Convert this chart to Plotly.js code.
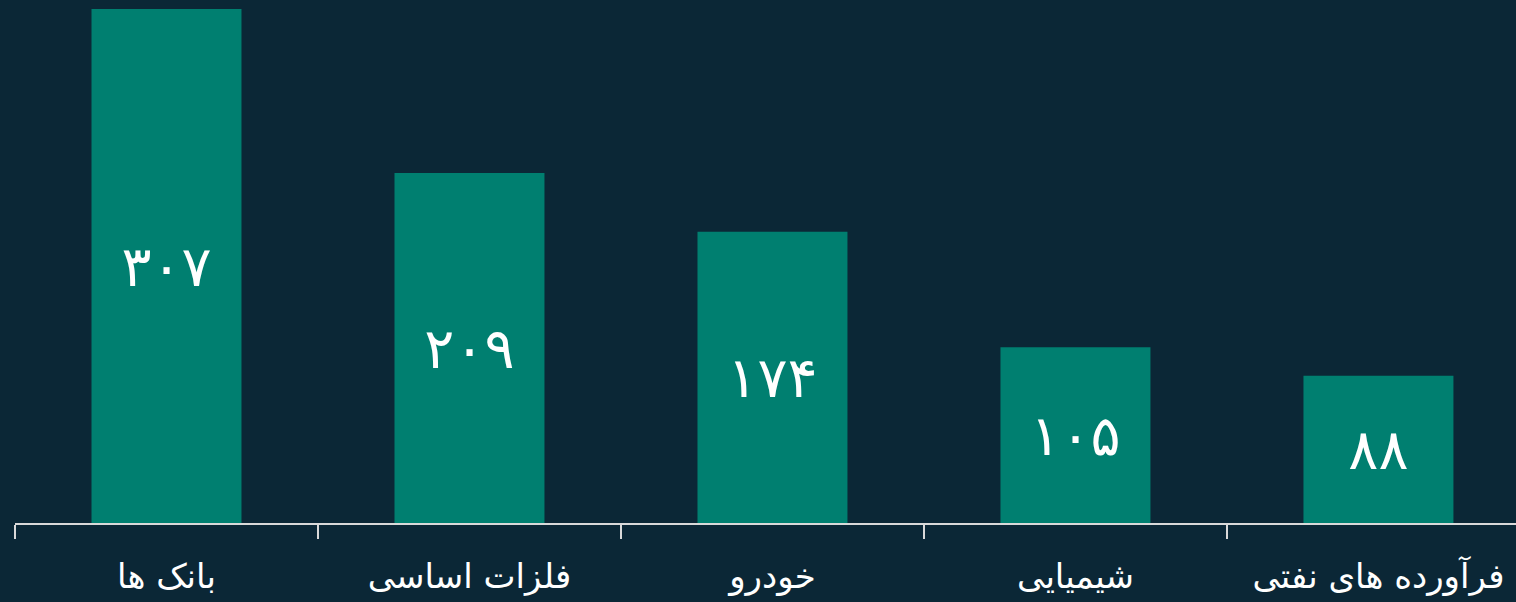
<!DOCTYPE html>
<html><head><meta charset="utf-8">
<script src="https://cdn.plot.ly/plotly-3.0.1.min.js"></script>
<style>html,body{margin:0;padding:0;background:#0b2736;}#chart{width:1516px;height:602px;}</style>
</head><body><div id="chart"></div>
<script>
const categories = ["بانک ها", "فلزات اساسی", "خودرو", "شیمیایی", "فرآورده های نفتی"];
const values = [307, 209, 174, 105, 88];
const valueLabels = ["۳۰۷", "۲۰۹", "۱۷۴", "۱۰۵", "۸۸"];

const trace = {
  type: "bar",
  x: categories,
  y: values,
  text: valueLabels,
  textposition: "inside",
  insidetextanchor: "middle",
  textfont: {family: "DejaVu Sans, Noto Sans", size: 56, color: "#ffffff"},
  marker: {color: "#007f70"},
  width: 0.495,
  hoverinfo: "none"
};
const layout = {
  width: 1516, height: 602,
  margin: {l: 15, r: 0, t: 0, b: 79},
  paper_bgcolor: "#0b2736",
  plot_bgcolor: "#0b2736",
  showlegend: false,
  font: {family: "DejaVu Sans, Noto Sans", color: "#ffffff"},
  xaxis: {
    type: "category",
    range: [-0.5, 4.454],
    tickson: "boundaries",
    ticks: "outside",
    ticklen: 14,
    tickwidth: 2,
    tickcolor: "#d9d9d9",
    showline: true,
    linecolor: "#d9d9d9",
    linewidth: 2,
    showgrid: false,
    tickfont: {family: "DejaVu Sans, Noto Sans", size: 34, color: "#ffffff"},
    ticklabelstandoff: 22
  },
  yaxis: {
    range: [0, 312.4],
    visible: false,
    showgrid: false,
    zeroline: false
  },
  uniformtext: {mode: false}
};
Plotly.newPlot("chart", [trace], layout, {displayModeBar: false, staticPlot: true});
</script></body></html>
